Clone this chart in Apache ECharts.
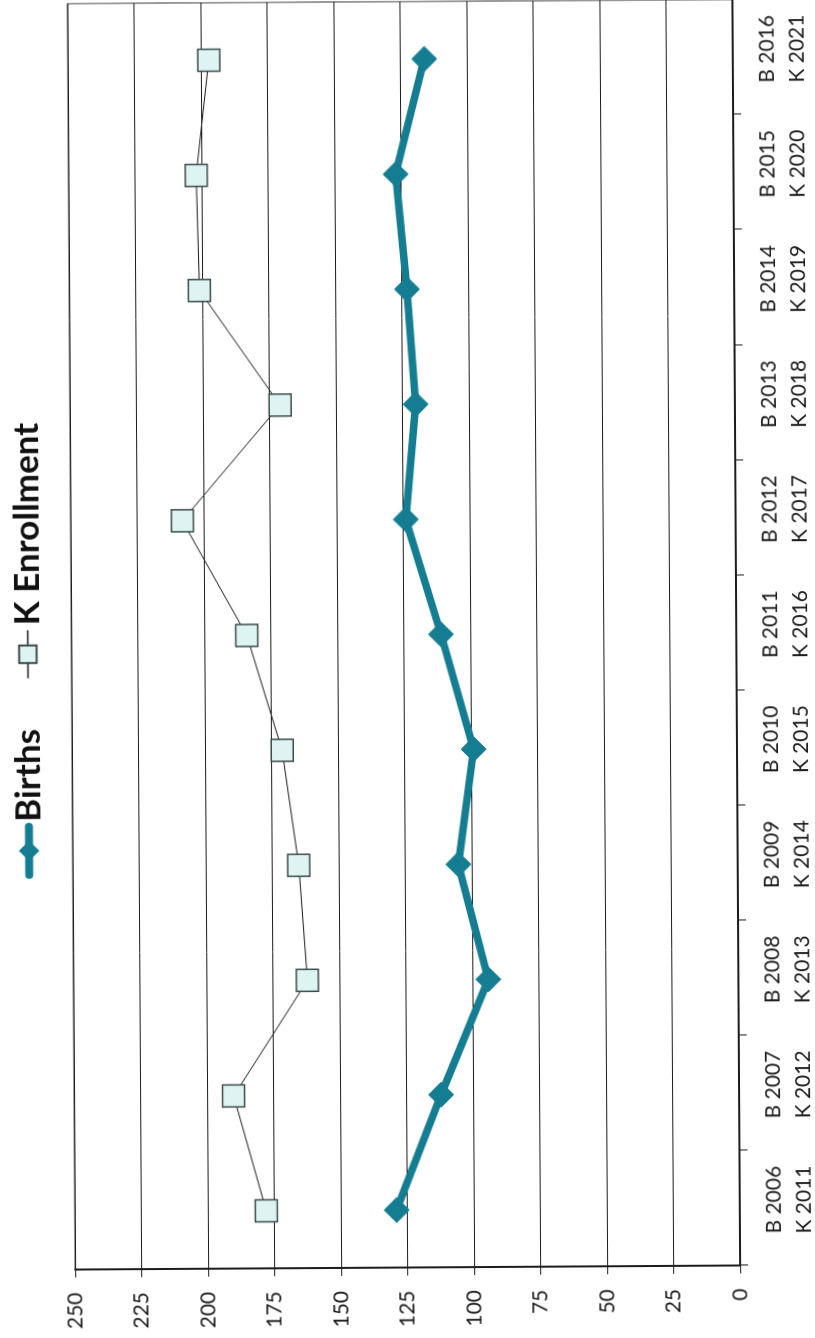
<!DOCTYPE html>
<html>
<head>
<meta charset="utf-8">
<title>Births and K Enrollment</title>
<script src="https://cdn.jsdelivr.net/npm/echarts@6/dist/echarts.min.js"></script>
<style>
  html, body { margin: 0; padding: 0; background: #ffffff; overflow: hidden; }
  body { width: 815px; height: 1338px; position: relative; }
  /* The chart is laid out landscape and turned a quarter turn onto the portrait page */
  #chart {
    position: absolute;
    width: 1338px;
    height: 815px;
    left: -261.5px;
    top: 261.5px;
    transform-origin: 50% 50%;
    transform: rotate(-90.35deg);
  }
</style>
</head>
<body>
<div id="chart"></div>
<script>
// Birth year and the matching kindergarten year five years later
const birthYears = [2006, 2007, 2008, 2009, 2010, 2011, 2012, 2013, 2014, 2015, 2016];
const kYears     = [2011, 2012, 2013, 2014, 2015, 2016, 2017, 2018, 2019, 2020, 2021];

// Counts per cohort
const births      = [129, 112, 94, 105, 99, 111, 124, 120, 123, 127, 116];
const kEnrollment = [178, 190, 162, 165, 171, 184, 208, 171, 201, 202, 197];

const categories = birthYears.map((b, i) => 'B ' + b + '\nK ' + kYears[i]);

const ink = '#1c1c1c';
const teal = '#157d92';

const chart = echarts.init(document.getElementById('chart'), null, { renderer: 'canvas' });

chart.setOption({
  backgroundColor: '#ffffff',
  animation: false,
  legend: {
    left: 462,
    top: 10,
    padding: 0,
    itemWidth: 48,
    itemHeight: 22,
    itemGap: 50,
    textStyle: {
      fontFamily: 'Lato',
      fontWeight: 'bold',
      fontSize: 35,
      color: '#111111'
    },
    data: [
      { name: 'Births', lineStyle: { width: 8, cap: 'round' } },
      { name: 'K Enrollment', lineStyle: { width: 1.5 } }
    ]
  },
  grid: {
    left: 71,
    right: 1,
    top: 71,
    bottom: 67,
    show: true,
    borderColor: '#333333',
    borderWidth: 1,
    containLabel: false
  },
  xAxis: {
    type: 'category',
    data: categories,
    boundaryGap: true,
    axisLine: { show: true, lineStyle: { color: ink, width: 2 } },
    axisTick: { show: true, inside: false, length: 8, interval: 0, lineStyle: { color: ink, width: 1 } },
    axisLabel: {
      interval: 0,
      margin: 19,
      fontFamily: 'Lato',
      fontSize: 21,
      lineHeight: 30,
      color: ink,
      padding: [0, 0, 0, 16]
    },
    splitLine: { show: false }
  },
  yAxis: {
    type: 'value',
    min: 0,
    max: 250,
    interval: 25,
    axisLine: { show: true, lineStyle: { color: ink, width: 2 } },
    axisTick: { show: true, inside: false, length: 8, lineStyle: { color: ink, width: 1 } },
    axisLabel: {
      margin: 23,
      fontFamily: 'Lato',
      fontSize: 21,
      color: ink
    },
    splitLine: { show: true, lineStyle: { color: ink, width: 1 } }
  },
  series: [
    {
      name: 'Births',
      type: 'line',
      data: births,
      symbol: 'diamond',
      symbolSize: 25,
      lineStyle: { color: teal, width: 7.5 },
      itemStyle: { color: teal, borderColor: teal, borderWidth: 1 },
      z: 3
    },
    {
      name: 'K Enrollment',
      type: 'line',
      data: kEnrollment,
      symbol: 'rect',
      symbolSize: 22,
      lineStyle: { color: '#1a1a1a', width: 1 },
      itemStyle: { color: '#def4f3', borderColor: '#3a4a4a', borderWidth: 1.5 },
      z: 2
    }
  ]
});
</script>
</body>
</html>
